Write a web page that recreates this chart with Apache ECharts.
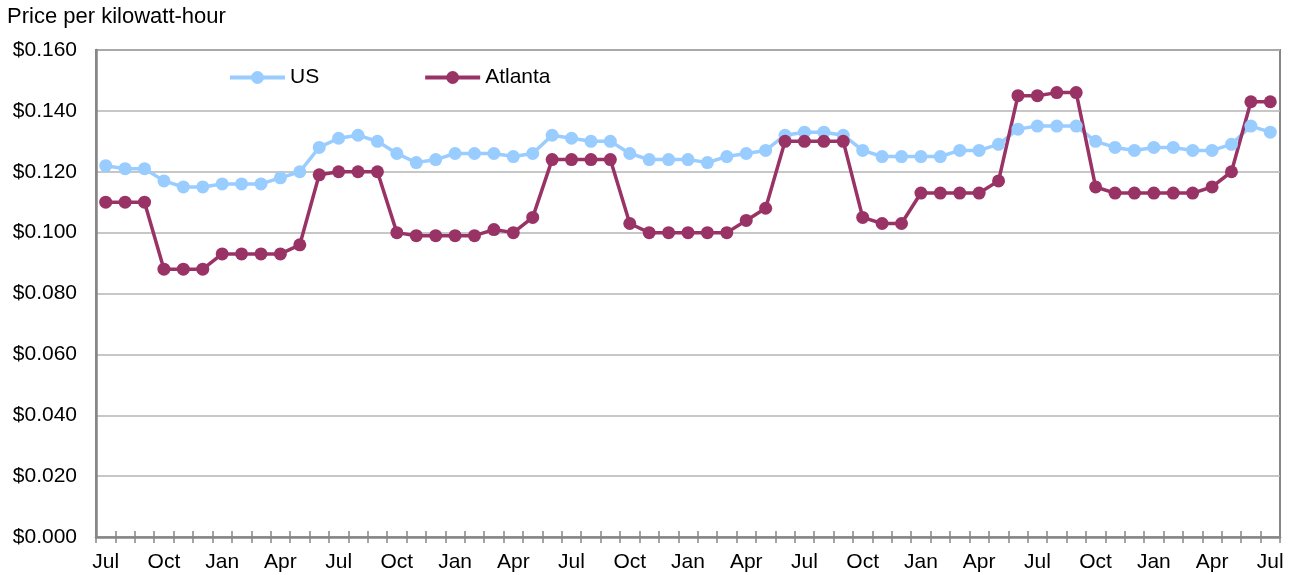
<!DOCTYPE html>
<html>
<head>
<meta charset="utf-8">
<script src="https://cdn.jsdelivr.net/npm/echarts@6/dist/echarts.min.js"></script>
<style>
html,body{margin:0;padding:0;background:#fff;}
#chart{width:1296px;height:575px;}
</style>
</head>
<body>
<div id="chart"></div>
<script>
// Months: Jul (year 1) through Jul (year 6), 61 monthly points
var monthNames = ['Jul','Aug','Sep','Oct','Nov','Dec','Jan','Feb','Mar','Apr','May','Jun'];
var categories = [];
for (var i = 0; i < 61; i++) { categories.push(monthNames[i % 12]); }

var usPrices = [
  0.122, 0.121, 0.121, 0.117, 0.115, 0.115, 0.116, 0.116, 0.116, 0.118, 0.120, 0.128,
  0.131, 0.132, 0.130, 0.126, 0.123, 0.124, 0.126, 0.126, 0.126, 0.125, 0.126, 0.132,
  0.131, 0.130, 0.130, 0.126, 0.124, 0.124, 0.124, 0.123, 0.125, 0.126, 0.127, 0.132,
  0.133, 0.133, 0.132, 0.127, 0.125, 0.125, 0.125, 0.125, 0.127, 0.127, 0.129, 0.134,
  0.135, 0.135, 0.135, 0.130, 0.128, 0.127, 0.128, 0.128, 0.127, 0.127, 0.129, 0.135,
  0.133
];
var atlantaPrices = [
  0.110, 0.110, 0.110, 0.088, 0.088, 0.088, 0.093, 0.093, 0.093, 0.093, 0.096, 0.119,
  0.120, 0.120, 0.120, 0.100, 0.099, 0.099, 0.099, 0.099, 0.101, 0.100, 0.105, 0.124,
  0.124, 0.124, 0.124, 0.103, 0.100, 0.100, 0.100, 0.100, 0.100, 0.104, 0.108, 0.130,
  0.130, 0.130, 0.130, 0.105, 0.103, 0.103, 0.113, 0.113, 0.113, 0.113, 0.117, 0.145,
  0.145, 0.146, 0.146, 0.115, 0.113, 0.113, 0.113, 0.113, 0.113, 0.115, 0.120, 0.143,
  0.143
];
var seriesNames = ['US', 'Atlanta'];
var yTitle = 'Price per kilowatt-hour';

var FONT = '"Liberation Sans", Arial, sans-serif';
var AXIS_COLOR = '#868686';
var GRID_COLOR = '#b4b4b4';
var FS = 21;

var chart = echarts.init(document.getElementById('chart'), null, {renderer: 'canvas'});
chart.setOption({
  animation: false,
  backgroundColor: '#ffffff',
  textStyle: {fontFamily: FONT},
  title: {
    text: yTitle,
    left: 7, top: 6, padding: 0,
    textStyle: {fontFamily: FONT, fontSize: 22, fontWeight: 'normal', color: '#000'}
  },
  legend: {
    data: seriesNames,
    left: 228, top: 67, padding: 0,
    itemWidth: 55, itemHeight: 16, itemGap: 104,
    lineStyle: {width: 4},
    textStyle: {fontFamily: FONT, fontSize: FS, color: '#000', padding: [0,0,0,0]}
  },
  grid: {
    left: 96, right: 16, top: 50, bottom: 38,
    show: true, borderColor: AXIS_COLOR, borderWidth: 2, backgroundColor: 'transparent'
  },
  xAxis: [{
    type: 'category',
    data: categories,
    boundaryGap: true,
    axisLine: {lineStyle: {color: AXIS_COLOR, width: 2.5}},
    axisTick: {show: true, interval: 0, length: 6, inside: false, lineStyle: {color: AXIS_COLOR, width: 1.5}},
    axisLabel: {interval: 2, margin: 15, fontFamily: FONT, fontSize: FS, color: '#000'},
    splitLine: {show: false}
  }, {
    type: 'category',
    data: categories,
    position: 'bottom',
    boundaryGap: true,
    axisLine: {show: false},
    axisTick: {show: true, interval: 0, length: 6, inside: true, lineStyle: {color: AXIS_COLOR, width: 1.5}},
    axisLabel: {show: false},
    splitLine: {show: false}
  }],
  yAxis: {
    type: 'value',
    min: 0, max: 0.16, interval: 0.02,
    axisLine: {show: true, lineStyle: {color: AXIS_COLOR, width: 2.5}},
    axisTick: {show: false},
    axisLabel: {
      margin: 19, fontFamily: FONT, fontSize: FS, color: '#000',
      formatter: function (v) { return '$' + v.toFixed(3); }
    },
    splitLine: {show: true, lineStyle: {color: GRID_COLOR, width: 1.5}}
  },
  series: [{
    name: seriesNames[0],
    type: 'line',
    data: usPrices,
    symbol: 'circle', symbolSize: 13, showSymbol: true, showAllSymbol: true,
    itemStyle: {color: '#99ccff'},
    lineStyle: {color: '#99ccff', width: 3.5}
  }, {
    name: seriesNames[1],
    type: 'line',
    data: atlantaPrices,
    symbol: 'circle', symbolSize: 13, showSymbol: true, showAllSymbol: true,
    itemStyle: {color: '#993366'},
    lineStyle: {color: '#993366', width: 3.5}
  }]
});
</script>
</body>
</html>
